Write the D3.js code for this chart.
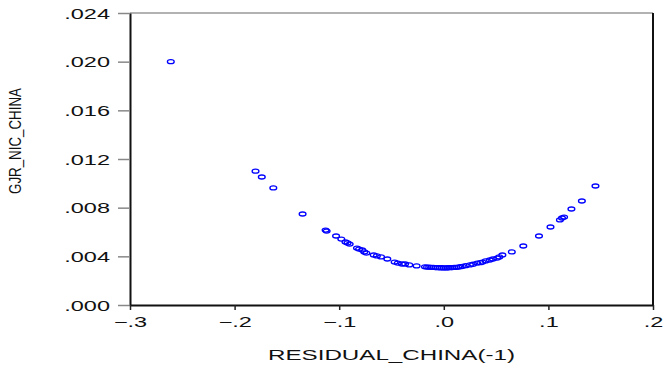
<!DOCTYPE html>
<html>
<head>
<meta charset="utf-8">
<script src="https://cdn.jsdelivr.net/npm/d3@7"></script>
<style>
  body { margin: 0; background: #fff; }
  text { font-family: "Liberation Sans", Arial, sans-serif; }
</style>
</head>
<body>
<script>
'use strict';

// residual_china(-1) values
var residual = [
  -0.261, -0.180, -0.174, -0.163, -0.135, -0.113, -0.112, -0.103, -0.098, -0.094,
  -0.092, -0.090, -0.083, -0.081, -0.078, -0.076, -0.074, -0.067, -0.064, -0.060,
  -0.054, -0.047, -0.044, -0.040, -0.037, -0.033, -0.026, -0.018, -0.016, -0.014,
  -0.012, -0.010, -0.008, -0.006, -0.004, -0.002, 0.000, 0.002, 0.004, 0.006,
  0.008, 0.010, 0.012, 0.014, 0.016, 0.018, 0.021, 0.025, 0.028, 0.032,
  0.035, 0.037, 0.040, 0.044, 0.047, 0.051, 0.053, 0.056, 0.065, 0.076,
  0.091, 0.102, 0.111, 0.113, 0.115, 0.122, 0.132, 0.145
];

// gjr_nic_china values, same order
var nic = [
  0.0200, 0.0110, 0.01052, 0.00962, 0.00748, 0.00616, 0.00608, 0.00567, 0.00542, 0.00518,
  0.0051, 0.00501, 0.00468, 0.0046, 0.00452, 0.00436, 0.00427, 0.00411, 0.00403, 0.00395,
  0.00378, 0.00353, 0.00345, 0.00337, 0.00337, 0.00329, 0.00321, 0.00314, 0.00312, 0.00311,
  0.0031, 0.00309, 0.00308, 0.00307, 0.00306, 0.00306, 0.00305, 0.00305, 0.00306, 0.00307,
  0.00308, 0.00309, 0.0031, 0.00312, 0.00315, 0.00318, 0.00323, 0.00329, 0.00335, 0.00345,
  0.00348, 0.00353, 0.00362, 0.0037, 0.00378, 0.00386, 0.00395, 0.00411, 0.00436, 0.00485,
  0.00567, 0.00641, 0.00699, 0.00715, 0.00723, 0.00789, 0.00855, 0.00978
];

var xTicks = [-0.3, -0.2, -0.1, 0.0, 0.1, 0.2];
var yTicks = [0.000, 0.004, 0.008, 0.012, 0.016, 0.020, 0.024];

var xTitle = 'RESIDUAL_CHINA(-1)';
var yTitle = 'GJR_NIC_CHINA';

build();

function build() {
  var width = 664,
    height = 369,
    margin = {top: 13, right: 11, bottom: 64, left: 130},
    w = width - margin.left - margin.right,
    h = height - margin.top - margin.bottom,
    stretch = 1.68;

  var svg = d3.select('body').append('svg')
    .attr('width', width)
    .attr('height', height);

  var g = svg.append('g')
    .attr('transform', 'translate(' + margin.left + ',' + margin.top + ')');

  var x = d3.scaleLinear().domain([-0.3, 0.2]).range([0, w]);
  var y = d3.scaleLinear().domain([0, 0.024]).range([h, 0]);

  var fmt = function(f) {
    return function(d) {
      return d3.format(f)(d).replace('0.', '.');
    };
  };

  // frame top / right
  g.append('line')
    .attr('x1', 0).attr('x2', w).attr('y1', 0).attr('y2', 0)
    .attr('stroke', '#999').attr('stroke-width', 1.5);
  g.append('line')
    .attr('x1', w).attr('x2', w).attr('y1', 0).attr('y2', h)
    .attr('stroke', '#111').attr('stroke-width', 2);

  var yAxis = g.append('g')
    .call(d3.axisLeft(y).tickValues(yTicks).tickFormat(fmt('.3f')).tickSize(12).tickSizeOuter(0));
  yAxis.select('.domain').attr('stroke', '#111').attr('stroke-width', 2);
  yAxis.selectAll('.tick line').attr('stroke', '#888').attr('stroke-width', 1.5);
  yAxis.selectAll('.tick text')
    .attr('font-size', 14)
    .attr('fill', '#111')
    .attr('x', -20 / stretch)
    .attr('dy', '0.36em')
    .attr('transform', 'scale(' + stretch + ',1)');

  var xAxis = g.append('g')
    .attr('transform', 'translate(0,' + h + ')')
    .call(d3.axisBottom(x).tickValues(xTicks).tickFormat(fmt('.1f')).tickSize(5).tickSizeOuter(0));
  xAxis.select('.domain').attr('stroke', '#111').attr('stroke-width', 2);
  xAxis.selectAll('.tick line').attr('stroke', '#222').attr('stroke-width', 1.5);
  xAxis.selectAll('.tick text')
    .attr('font-size', 14)
    .attr('fill', '#111')
    .attr('y', 17)
    .attr('dy', '0.36em')
    .attr('transform', 'scale(' + stretch + ',1)');

  g.append('g').selectAll('ellipse')
    .data(residual)
    .enter().append('ellipse')
    .attr('cx', function(d) { return x(d); })
    .attr('cy', function(d, i) { return y(nic[i]); })
    .attr('rx', 3.4)
    .attr('ry', 2)
    .attr('fill', 'none')
    .attr('stroke', '#0000ff')
    .attr('stroke-width', 1.3);

  svg.append('text')
    .attr('x', 268)
    .attr('y', 360)
    .attr('font-size', 14)
    .attr('fill', '#111')
    .attr('textLength', 247)
    .attr('lengthAdjust', 'spacingAndGlyphs')
    .text(xTitle);

  svg.append('text')
    .attr('transform', 'translate(21,194) rotate(-90)')
    .attr('font-size', 17)
    .attr('fill', '#111')
    .attr('textLength', 106)
    .attr('lengthAdjust', 'spacingAndGlyphs')
    .text(yTitle);
}
</script>
</body>
</html>
